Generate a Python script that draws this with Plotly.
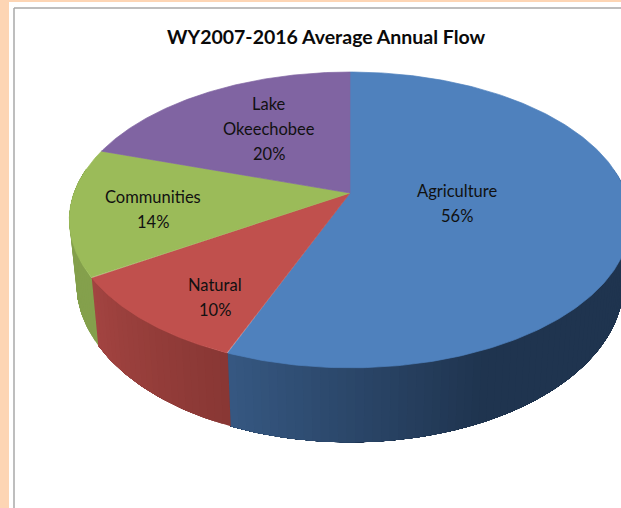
import numpy as np
import plotly.graph_objects as go

# Annual flow shares, clockwise from twelve o'clock
categories = ["Agriculture", "Natural", "Communities", "Lake Okeechobee"]
shares = [56, 10, 14, 20]
label_lines = [["Agriculture"], ["Natural"], ["Communities"], ["Lake", "Okeechobee"]]
title_text = "WY2007-2016 Average Annual Flow"

top_colors = ["#4f81bd", "#c0504d", "#9bbb59", "#8064a2"]
# Wall shading per slice: colour at the lit end and at the dark end
wall_light = [(54, 88, 130), (163, 68, 65), (140, 168, 80), (100, 80, 130)]
wall_dark = [(31, 52, 79), (136, 55, 52), (125, 152, 72), (90, 70, 115)]

# Perspective disc: apex position, radii and foreshortening
APEX_X, APEX_Y = 350.0, 193.0
RADIUS_X, RADIUS_Y, PERSP = 276.0, 143.0, 0.182
# Lower rim of the wall relative to the top rim
RIM_SCALE_X, RIM_OFFSET_Y, RIM_SCALE_Y = 0.975, 254.0, 1.077


def top_rim(theta):
    u, v = np.sin(theta), -np.cos(theta)
    d = 1 - PERSP * v
    return APEX_X + RADIUS_X * u / d, APEX_Y + RADIUS_Y * v / d


def low_rim(theta):
    x, y = top_rim(theta)
    return APEX_X + RIM_SCALE_X * (x - APEX_X), RIM_OFFSET_Y + RIM_SCALE_Y * (y - APEX_Y)


def to_hex(rgb):
    return "#%02x%02x%02x" % tuple(int(round(c)) for c in rgb)


edges = np.radians(np.concatenate([[0], np.cumsum(shares)]) * 3.6)
fig = go.Figure()

# Outer wall: each strip runs on to the slice's far end and the next one paints
# over it, so no seams open up between neighbouring shades
for i, (a0, a1) in enumerate(zip(edges[:-1], edges[1:])):
    lo, hi = max(a0, np.radians(80)), min(a1, np.radians(280))
    if hi <= lo:
        continue
    steps = max(2, int(np.degrees(hi - lo) / 1.5))
    grid = np.linspace(lo, hi, steps + 1)
    # Painted from the far end back towards the slice's start
    order = grid[:-1]
    for t0 in order:
        t1 = t0 + (hi - lo) / steps
        mid = (t0 + t1) / 2
        if i == 0:
            # Blue wall darkens quickly away from the red slice
            frac = min(1.0, (a1 - mid) / np.radians(45))
        elif i == 1:
            frac = 1 - (mid - a0) / (a1 - a0)
        else:
            frac = 0.5
        colour = to_hex(np.array(wall_light[i]) * (1 - frac) + np.array(wall_dark[i]) * frac)
        seg = np.linspace(t0, hi, max(4, int(np.degrees(hi - t0))))
        xt, yt = top_rim(seg)
        xb, yb = low_rim(seg[::-1])
        fig.add_trace(go.Scatter(
            x=np.concatenate([xt, xb, xt[:1]]), y=np.concatenate([yt, yb, yt[:1]]),
            mode="lines", fill="toself", fillcolor=colour, line=dict(width=0),
            hoverinfo="skip", showlegend=False))

# Top face slices
for i, (a0, a1) in enumerate(zip(edges[:-1], edges[1:])):
    arc = np.linspace(a0, a1, 240)
    xt, yt = top_rim(arc)
    fig.add_trace(go.Scatter(
        x=np.concatenate([[APEX_X], xt, [APEX_X]]), y=np.concatenate([[APEX_Y], yt, [APEX_Y]]),
        mode="lines", fill="toself", fillcolor=top_colors[i],
        line=dict(width=0.7, color=top_colors[i]),
        name=categories[i], hoverinfo="name", showlegend=False))

# Slice labels, one annotation per line to hold the line pitch
label_anchor = [(457, 191), (215, 285), (153, 197), (269, 104)]
LINE_PITCH = 25
annotations = []
for lines, share, (ax, ay) in zip(label_lines, shares, label_anchor):
    for n, line in enumerate(lines + [f"{share}%"]):
        annotations.append(dict(
            x=ax, y=ay + n * LINE_PITCH, text=line, showarrow=False,
            xref="x", yref="y", font=dict(family="Lato", size=16.5, color="#111111")))
annotations.append(dict(
    x=326, y=36, text=f"<b>{title_text}</b>", showarrow=False, xref="x", yref="y",
    font=dict(family="Lato", size=19.5, color="#0a0a0a")))

# Page band and chart frame
shapes = [
    dict(type="rect", xref="x", yref="y", x0=0, x1=621, y0=0, y1=2, fillcolor="#fdd5b4", line_width=0, layer="below"),
    dict(type="rect", xref="x", yref="y", x0=0, x1=9, y0=0, y1=508, fillcolor="#fdd5b4", line_width=0, layer="below"),
    dict(type="line", xref="x", yref="y", x0=14, x1=14, y0=8, y1=508, line=dict(color="#a9a9a9", width=1.5), layer="below"),
    dict(type="line", xref="x", yref="y", x0=14, x1=621, y0=8, y1=8, line=dict(color="#a9a9a9", width=1.5), layer="below"),
]

fig.update_layout(
    width=621, height=508, margin=dict(l=0, r=0, t=0, b=0),
    paper_bgcolor="white", plot_bgcolor="white", showlegend=False,
    xaxis=dict(range=[0, 621], visible=False, fixedrange=True),
    yaxis=dict(range=[508, 0], visible=False, fixedrange=True),
    annotations=annotations, shapes=shapes)

fig.write_html("out.html", config={"displayModeBar": False})
